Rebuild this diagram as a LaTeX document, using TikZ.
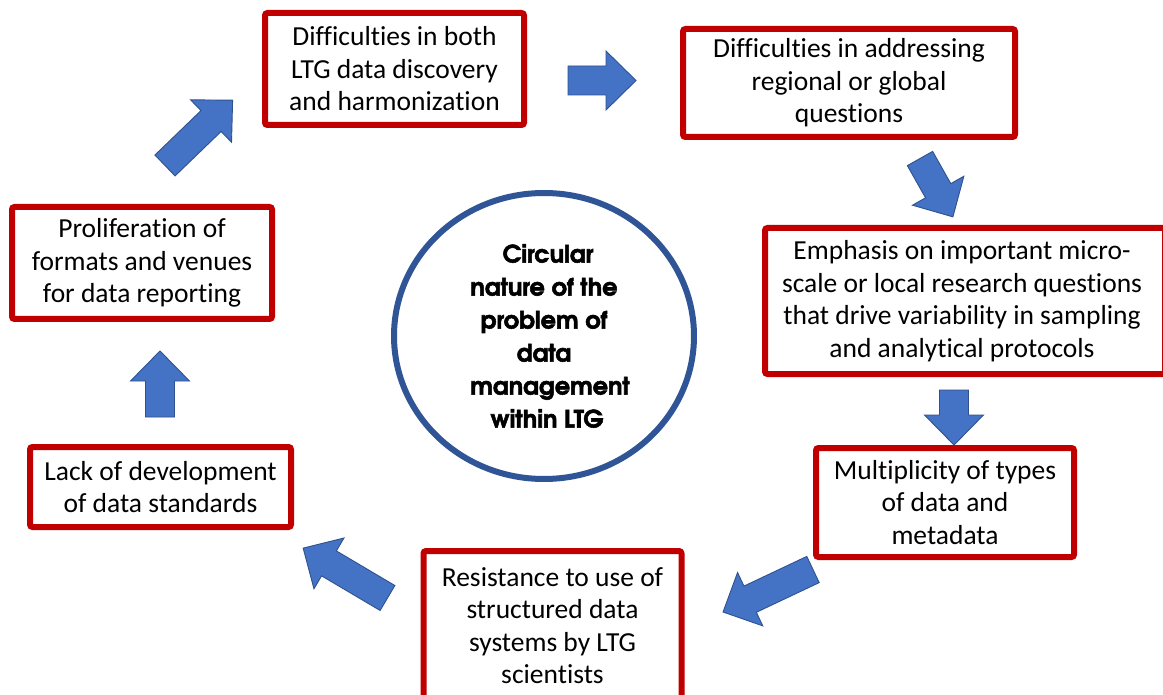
\documentclass[tikz,border=0pt]{standalone}
\usepackage{fontspec}
\setmainfont{Carlito}[Ligatures=NoCommon]
\newfontfamily\circfont{texgyreadventor-bold.otf}[FakeBold=2.2]
\definecolor{boxred}{HTML}{C00000}
\definecolor{arrfill}{HTML}{4472C4}
\definecolor{arrline}{HTML}{2F528F}
\definecolor{circblue}{HTML}{2F5597}
\tikzset{
  probbox/.style={draw=boxred, line width=6pt, rounded corners=2.5pt, fill=white, inner sep=0pt,
    align=center, font=\fontsize{27.5}{32.5}\selectfont},
  barrow/.style={fill=arrfill, draw=arrline, line width=0.9pt, line join=miter},
  centre/.style={ellipse, draw=circblue, line width=6pt, inner sep=0pt, align=center,
    font=\circfont\fontsize{24}{33}\selectfont}
}
\usetikzlibrary{shapes.geometric}
\newcommand\blkarrow[3]{%
  \begin{scope}[shift={(#1)},rotate=#2]
    \path[barrow] (0,-14.5) -- ({#3-30},-14.5) -- ({#3-30},-29.5) -- (#3,0)
      -- ({#3-30},29.5) -- ({#3-30},14.5) -- (0,14.5) -- cycle;
  \end{scope}}
\begin{document}
\begin{tikzpicture}[x=1pt,y=-1pt]
\useasboundingbox (0,0) rectangle (1163,695);
\clip (0,0) rectangle (1163,695);
\fill[white] (0,0) rectangle (1163,695);

\node[probbox, minimum width=259pt, minimum height=112pt] (b1) at (394.5,69)
  {Difficulties in both\\LTG data discovery\\and harmonization};
\node[probbox, minimum width=332pt, minimum height=108pt] (b2) at (849,83)
  {Difficulties in addressing\\regional or global\\questions};
\node[probbox, minimum width=400pt, minimum height=146pt] (b3) at (965,301)
  {\hspace*{-6pt}Emphasis on important micro-\\\hspace*{-6pt}scale or local research questions\\\hspace*{-6pt}that drive variability in sampling\\\hspace*{-6pt}and analytical protocols};
\node[probbox, minimum width=258pt, minimum height=109pt] (b4) at (945,502.5)
  {Multiplicity of types\\of data and\\metadata};
\node[probbox, minimum width=258pt, minimum height=149pt] (b5) at (552.5,625.5)
  {Resistance to use of\\structured data\\systems by LTG\\scientists};
\node[probbox, minimum width=261pt, minimum height=80pt] (b6) at (160.5,487)
  {Lack of development\\of data standards};
\node[probbox, minimum width=260pt, minimum height=112pt] (b7) at (142,263)
  {Proliferation of\\formats and venues\\for data reporting};

\node[centre, minimum width=300pt, minimum height=286pt] (c) at (544,336)
  {\hspace*{8pt}Circular\\nature of the\\problem of\\data\\\hspace*{12pt}management\\\hspace*{6pt}within LTG};

\blkarrow{165,165.5}{44}{94}
\blkarrow{568,80.5}{0}{68}
\blkarrow{920,158.5}{-60.6}{67}
\blkarrow{954,390}{-90}{55}
\blkarrow{813,569.5}{-154.7}{99.5}
\blkarrow{387.5,598}{149.4}{98}
\blkarrow{160,417}{90}{66}
\end{tikzpicture}
\end{document}
